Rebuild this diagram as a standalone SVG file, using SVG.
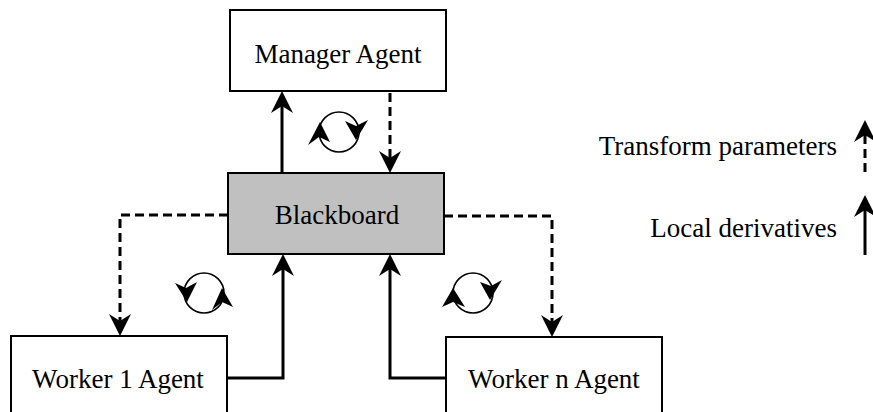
<svg xmlns="http://www.w3.org/2000/svg" width="873" height="412" viewBox="0 0 873 412">
<style>
.box{fill:#fff;stroke:#000;stroke-width:2}
.bb{fill:#c0c0c0;stroke:#000;stroke-width:2}
.t{font-family:"Liberation Serif","Times New Roman",serif;font-size:27px;fill:#000}
.c{text-anchor:middle}
.e{text-anchor:end}
.ln{fill:none;stroke:#000;stroke-width:3}
.dash{stroke-dasharray:9 5}
.cyc{fill:none;stroke:#000;stroke-width:1.6}
.ah{fill:#000}
</style>
<defs>
<marker id="arr" markerUnits="userSpaceOnUse" viewBox="-30 -12 31 24" refX="-8" refY="0" markerWidth="31" markerHeight="24" orient="auto">
<path d="M0,0 L-22,-11 L-15,0 L-22,11 Z" fill="#000"/>
</marker>
</defs>
<rect width="873" height="412" fill="#fff"/>
<g id="manager">
<rect class="box" x="230" y="10" width="216" height="81"/>
<text class="t c" x="338" y="63">Manager Agent</text>
</g>
<g id="blackboard">
<rect class="bb" x="228" y="173" width="216" height="81"/>
<text class="t c" x="337" y="224">Blackboard</text>
</g>
<g id="worker1">
<rect class="box" x="11" y="336" width="216" height="90"/>
<text class="t c" x="118" y="388">Worker 1 Agent</text>
</g>
<g id="workern">
<rect class="box" x="446" y="337" width="216" height="90"/>
<text class="t c" x="554" y="388">Worker n Agent</text>
</g>
<g id="connectors">
<path class="ln" d="M282,173 V99" marker-end="url(#arr)"/>
<path class="ln dash" d="M390,93 V165" marker-end="url(#arr)"/>
<path class="ln dash" d="M228,215 H120 V328" marker-end="url(#arr)"/>
<path class="ln" d="M227,378 H283 V262" marker-end="url(#arr)"/>
<path class="ln dash" d="M444,216 H552 V329" marker-end="url(#arr)"/>
<path class="ln" d="M446,378 H390 V262" marker-end="url(#arr)"/>
</g>
<g id="cycles">
<circle class="cyc" cx="339" cy="132" r="20"/>
<polygon class="ah" points="320,122 308,145 319,137 330,142"/>
<polygon class="ah" points="356,140 345,121 356,126 368,120"/>
<circle class="cyc" cx="204" cy="293" r="20"/>
<polygon class="ah" points="187,302 175,283 186,288 197,282"/>
<polygon class="ah" points="222,288 212,310 222,302 233,307"/>
<circle class="cyc" cx="473" cy="293" r="20"/>
<polygon class="ah" points="453,288 442,307 453,302 465,307"/>
<polygon class="ah" points="490,300 480,282 491,286 502,280"/>
</g>
<g id="legend">
<text class="t e" x="837" y="155">Transform parameters</text>
<path class="ln dash" d="M865,172 V128" marker-end="url(#arr)"/>
<text class="t e" x="837" y="237">Local derivatives</text>
<path class="ln" d="M865,255 V203" marker-end="url(#arr)"/>
</g>
</svg>
